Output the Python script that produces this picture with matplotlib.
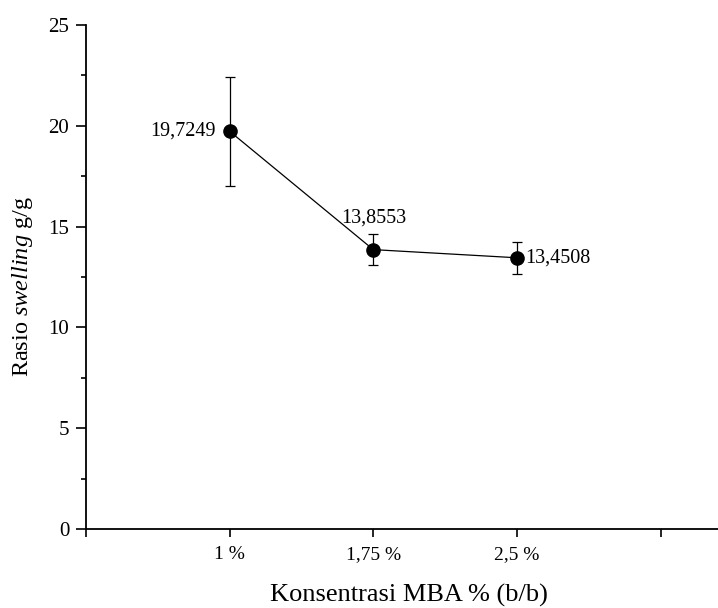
import matplotlib
matplotlib.use("Agg")
import matplotlib.pyplot as plt
from matplotlib.ticker import MultipleLocator

plt.rcParams["font.family"] = ["Liberation Serif", "DejaVu Serif"]
plt.rcParams["mathtext.fontset"] = "custom"
plt.rcParams["mathtext.rm"] = "Liberation Serif"
plt.rcParams["mathtext.it"] = "Liberation Serif:italic"

# data
categories = ["1 %", "1,75 %", "2,5 %"]
swelling = [19.7249, 13.8553, 13.4508]
errors = [2.7, 0.77, 0.8]
value_labels = ["19,7249", "13,8553", "13,4508"]

x_pos = [1, 2, 3]

fig = plt.figure(figsize=(7.18, 6.08), dpi=100)
ax = fig.add_axes([0.1198, 0.130, 0.8802, 0.829])

ax.errorbar(x_pos, swelling, yerr=errors, color="black", lw=0.9,
            marker="o", ms=9.5, capsize=3.5, elinewidth=0.9, capthick=0.9)

# value annotations
ax.annotate(value_labels[0], (x_pos[0], swelling[0]), textcoords="offset points",
            xytext=(-10, 0), ha="right", va="center", fontsize=14.5)
ax.annotate(value_labels[1], (x_pos[1], swelling[1]), textcoords="offset points",
            xytext=(0, 16), ha="center", va="bottom", fontsize=14.5)
ax.annotate(value_labels[2], (x_pos[2], swelling[2]), textcoords="offset points",
            xytext=(6, 0), ha="left", va="center", fontsize=14.5)

ax.set_xlim(0, 4.4)
ax.set_ylim(0, 25)
ax.set_xticks([0, 1, 2, 3, 4])
ax.set_xticklabels([""] + categories + [""], fontsize=14)
ax.yaxis.set_major_locator(MultipleLocator(5))
ax.yaxis.set_minor_locator(MultipleLocator(2.5))
ax.tick_params(axis="y", labelsize=15, width=1.2, length=7, pad=5)
ax.tick_params(axis="y", which="minor", width=1.2, length=3.5)
ax.tick_params(axis="x", width=1.2, length=6, pad=6)

for side in ("top", "right"):
    ax.spines[side].set_visible(False)
for side in ("left", "bottom"):
    ax.spines[side].set_linewidth(1.3)

ax.set_xlabel("Konsentrasi MBA % (b/b)", fontsize=19)
ax.xaxis.label.set_va("baseline")
ax.xaxis.set_label_coords(0.570, 0.0099, transform=fig.transFigure)

ax.set_ylabel(r"Rasio $\mathit{swelling}$ g/g", fontsize=17.5)
ax.yaxis.label.set_va("center")
ax.yaxis.set_label_coords(0.032, 0.528, transform=fig.transFigure)

fig.savefig("out.png", dpi=100)
